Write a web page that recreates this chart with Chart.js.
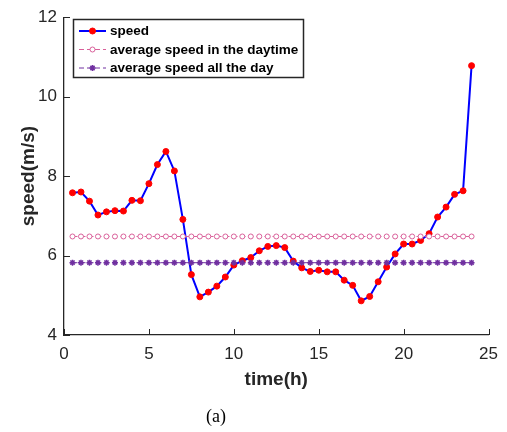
<!DOCTYPE html>
<html>
<head>
<meta charset="utf-8">
<title>speed chart</title>
<script src="https://cdn.jsdelivr.net/npm/chart.js@4.4.0/dist/chart.umd.min.js"></script>
<style>
  html, body { margin: 0; padding: 0; background: #fff; }
  #wrap { width: 507px; height: 432px; }
</style>
</head>
<body>
<div id="wrap"><canvas id="speedChart" width="507" height="432"></canvas></div>
<script>
// hours of the day (half-hour steps)
const hours = [0.5, 1, 1.5, 2, 2.5, 3, 3.5, 4, 4.5, 5, 5.5, 6, 6.5, 7, 7.5, 8,
  8.5, 9, 9.5, 10, 10.5, 11, 11.5, 12, 12.5, 13, 13.5, 14, 14.5, 15, 15.5, 16,
  16.5, 17, 17.5, 18, 18.5, 19, 19.5, 20, 20.5, 21, 21.5, 22, 22.5, 23, 23.5, 24];
// wind speed (m/s)
const speed = [7.58, 7.60, 7.37, 7.02, 7.10, 7.13, 7.12, 7.39, 7.38, 7.81, 8.29, 8.62, 8.13, 6.91, 5.52, 4.96,
  5.08, 5.23, 5.46, 5.76, 5.87, 5.95, 6.12, 6.23, 6.25, 6.20, 5.86, 5.69, 5.60, 5.63, 5.59, 5.59,
  5.38, 5.25, 4.86, 4.97, 5.34, 5.71, 6.04, 6.29, 6.29, 6.38, 6.55, 6.97, 7.22, 7.54, 7.63, 10.78];
const dayAvg = 6.48;   // average speed in the daytime
const allAvg = 5.82;   // average speed all the day
const xTicks = [0, 5, 10, 15, 20, 25];
const yTicks = [4, 6, 8, 10, 12];
const seriesNames = ['speed', 'average speed in the daytime', 'average speed all the day'];

const FONT = '"Liberation Sans", Arial, Helvetica, sans-serif';
const AXIS = '#262626';
const BLUE = '#0000ff', RED = '#ff0000', PINK = '#d9609a', PURPLE = '#7030a0';

function pts(ys) { return hours.map((h, i) => ({ x: h, y: ys[i] })); }
function flat(v) { return hours.map(h => ({ x: h, y: v })); }

// inward ticks, legend box and caption
const decor = {
  id: 'decor',
  afterDraw(chart) {
    const { ctx, chartArea: ca, scales: { x, y } } = chart;
    ctx.save();
    ctx.strokeStyle = AXIS;
    ctx.lineWidth = 1;
    xTicks.forEach(v => {
      const px = Math.round(x.getPixelForValue(v)) + 0.5;
      ctx.beginPath(); ctx.moveTo(px, ca.bottom); ctx.lineTo(px, ca.bottom - 6); ctx.stroke();
    });
    yTicks.forEach(v => {
      const py = Math.round(y.getPixelForValue(v)) + 0.5;
      ctx.beginPath(); ctx.moveTo(ca.left, py); ctx.lineTo(ca.left + 6, py); ctx.stroke();
    });

    // legend
    const bx = 73.5, by = 19.5, bw = 230, bh = 58;
    ctx.fillStyle = '#fff';
    ctx.fillRect(bx, by, bw, bh);
    ctx.lineWidth = 1.5;
    ctx.strokeStyle = AXIS;
    ctx.strokeRect(bx, by, bw, bh);
    const rows = [31, 49.5, 68];
    const x0 = 79, x1 = 106, mx = 92.5;
    chart.data.datasets.forEach((ds, i) => {
      const ry = rows[i];
      ctx.strokeStyle = ds.borderColor;
      ctx.lineWidth = ds.borderWidth;
      ctx.setLineDash(ds.borderDash || []);
      ctx.beginPath(); ctx.moveTo(x0, ry); ctx.lineTo(x1, ry); ctx.stroke();
      ctx.setLineDash([]);
      ctx.fillStyle = ds.pointBackgroundColor;
      ctx.strokeStyle = ds.pointBorderColor;
      ctx.lineWidth = ds.pointBorderWidth;
      ctx.beginPath();
      if (ds.pointStyle === 'circle') {
        ctx.arc(mx, ry, ds.pointRadius, 0, Math.PI * 2);
        ctx.fill();
        ctx.stroke();
      } else {
        const r = ds.pointRadius;
        for (let k = 0; k < 4; k++) {
          const a = k * Math.PI / 4;
          ctx.moveTo(mx - r * Math.cos(a), ry - r * Math.sin(a));
          ctx.lineTo(mx + r * Math.cos(a), ry + r * Math.sin(a));
        }
        ctx.stroke();
      }
      ctx.fillStyle = '#000';
      ctx.font = 'bold 13.5px ' + FONT;
      ctx.textBaseline = 'middle';
      ctx.textAlign = 'left';
      ctx.fillText(ds.label, 110, ry + 0.5);
    });

    // caption
    ctx.fillStyle = '#000';
    ctx.font = '18px "Liberation Serif", "Times New Roman", serif';
    ctx.textAlign = 'center';
    ctx.textBaseline = 'middle';
    ctx.fillText('(a)', 216, 417);
    ctx.restore();
  }
};

new Chart(document.getElementById('speedChart'), {
  type: 'line',
  data: {
    datasets: [
      {
        label: seriesNames[0],
        data: pts(speed),
        borderColor: BLUE,
        borderWidth: 2,
        pointStyle: 'circle',
        pointRadius: 3,
        pointBackgroundColor: RED,
        pointBorderColor: RED,
        pointBorderWidth: 1,
        tension: 0,
        order: 3
      },
      {
        label: seriesNames[1],
        data: flat(dayAvg),
        borderColor: PINK,
        borderWidth: 1,
        borderDash: [5, 3],
        pointStyle: 'circle',
        pointRadius: 2.5,
        pointBackgroundColor: '#ffffff',
        pointBorderColor: PINK,
        pointBorderWidth: 1,
        order: 2
      },
      {
        label: seriesNames[2],
        data: flat(allAvg),
        borderColor: PURPLE,
        borderWidth: 1,
        borderDash: [5, 3],
        pointStyle: 'star',
        pointRadius: 3,
        pointBackgroundColor: PURPLE,
        pointBorderColor: PURPLE,
        pointBorderWidth: 1.5,
        order: 1
      }
    ]
  },
  options: {
    responsive: false,
    animation: false,
    events: [],
    layout: { padding: { left: 0, top: 12, right: 17, bottom: 0 } },
    plugins: { legend: { display: false }, tooltip: { enabled: false } },
    scales: {
      x: {
        type: 'linear',
        min: 0, max: 25,
        afterFit: s => { s.height = 97; },
        afterBuildTicks: s => { s.ticks = xTicks.map(v => ({ value: v })); },
        grid: { display: false, drawTicks: false },
        border: { display: true, color: AXIS, width: 1.3 },
        ticks: { color: AXIS, font: { family: FONT, size: 17 }, padding: 9, maxRotation: 0 },
        title: { display: true, text: 'time(h)', color: AXIS, font: { family: FONT, size: 19, weight: 'bold' }, padding: { top: 0, bottom: 41 } }
      },
      y: {
        type: 'linear',
        min: 4, max: 12,
        afterFit: s => { s.width = 64; },
        afterBuildTicks: s => { s.ticks = yTicks.map(v => ({ value: v })); },
        grid: { display: false, drawTicks: false },
        border: { display: true, color: AXIS, width: 1.3 },
        ticks: { color: AXIS, font: { family: FONT, size: 17 }, padding: 7 },
        title: { display: true, text: 'speed(m/s)', color: AXIS, font: { family: FONT, size: 19, weight: 'bold' }, padding: { top: 17, bottom: 0 } }
      }
    }
  },
  plugins: [decor]
});
</script>
</body>
</html>
